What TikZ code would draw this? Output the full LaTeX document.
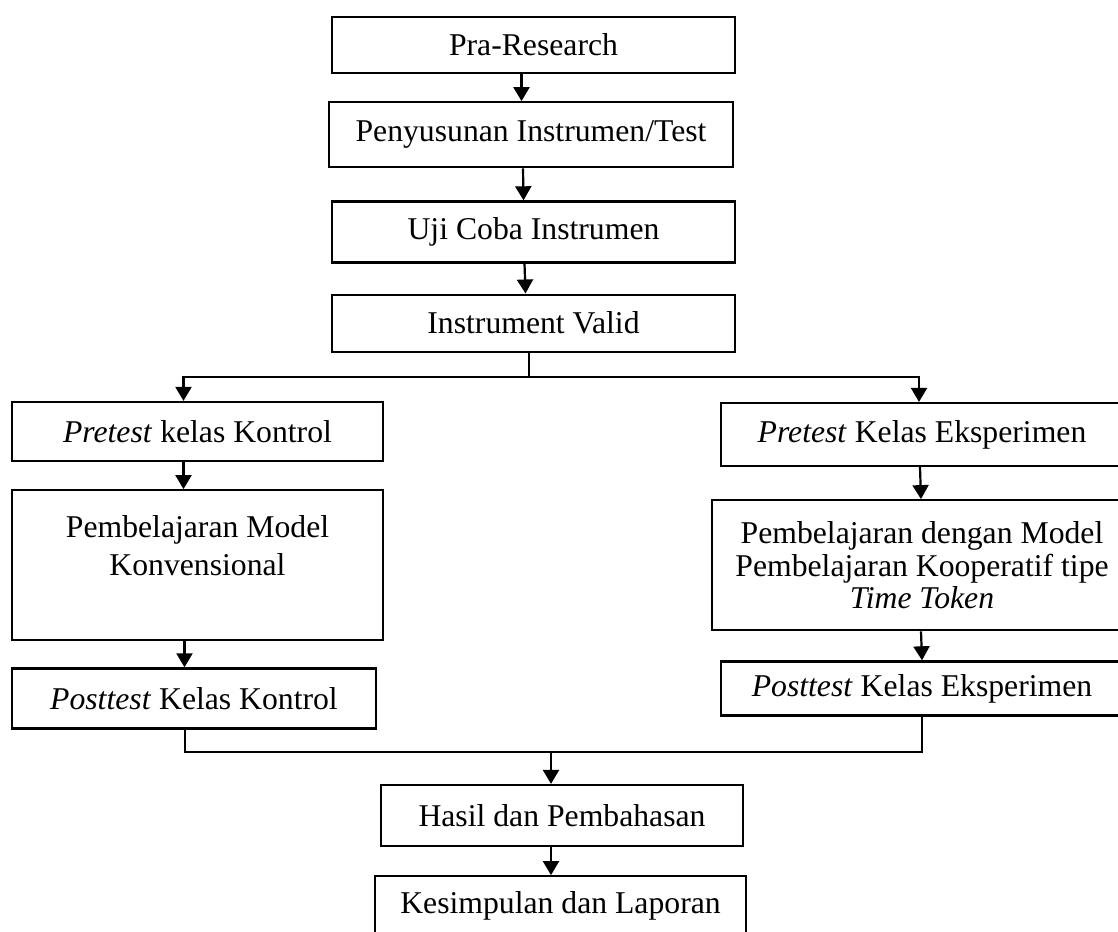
\documentclass[tikz,border=0pt]{standalone}
\usepackage{fontspec}
\setmainfont{Liberation Serif}
\usetikzlibrary{arrows.meta,positioning}

\begin{document}
\begin{tikzpicture}[x=1pt,y=-1pt,>={Triangle[length=14pt,width=16pt]},line width=2.2pt,
  font=\fontsize{31.7}{38}\selectfont,
  b/.style={draw,align=center,inner sep=0pt}]
\useasboundingbox (0,0) rectangle (1118,931);
\clip (0,0) rectangle (1118,931);
% alur persiapan
\node[b,minimum width=403pt,minimum height=56pt] (pra) at (533.5,45) {Pra-Research};
\node[b,minimum width=404pt,minimum height=65pt,below=27pt of pra,xshift=-2.5pt] (susun) {Penyusunan Instrumen/Test};
\node[b,minimum width=403pt,minimum height=61pt,below=32pt of susun,xshift=2.5pt] (uji) {Uji Coba Instrumen};
\node[b,minimum width=403pt,minimum height=57pt,below=30pt of uji] (valid) {Instrument Valid};
% kelas kontrol
\node[b,minimum width=371pt,minimum height=59pt] (prek) at (197.5,431.5) {\textit{Pretest} kelas Kontrol};
\node[b,minimum width=371pt,minimum height=150pt,below=27pt of prek] (konv)
  {\parbox[c][150pt][t]{371pt}{\centering\vspace*{25pt}Pembelajaran Model\\Konvensional}};
\node[b,minimum width=364pt,minimum height=60pt,below=26pt of konv,xshift=-3.5pt] (postk) {\textit{Posttest} Kelas Kontrol};
% kelas eksperimen
\node[b,minimum width=402pt,minimum height=63pt] (pree) at (922,434.5) {\textit{Pretest} Kelas Eksperimen};
\node[b,minimum width=420pt,minimum height=130pt,below=32pt of pree,font=\fontsize{31.7}{32.5}\selectfont] (tt)
  {Pembelajaran dengan Model\\Pembelajaran Kooperatif tipe\\\textit{Time Token}};
\node[b,minimum width=402pt,minimum height=54pt,below=29pt of tt] (poste) {\textit{Posttest} Kelas Eksperimen};
% hasil
\node[b,minimum width=362pt,minimum height=61pt] (hasil) at (562,815.5) {Hasil dan Pembahasan};
\node[b,minimum width=371pt,minimum height=60pt,below=28pt of hasil,xshift=-1.5pt] (kes) {Kesimpulan dan Laporan};
\coordinate (gabung) at (551,752);

\draw[->] ([xshift=-12pt]pra.south)--([xshift=-9.5pt]susun.north);
\draw[->] ([xshift=-8pt]susun.south)--([xshift=-10pt]uji.north);
\draw[->] ([xshift=-9pt]uji.south)--([xshift=-8pt]valid.north);
\draw ([xshift=-4.5pt]valid.south) -- ++(0,24) coordinate (cabang);
\draw[->] (cabang) -| ([xshift=-14pt]prek.north);
\draw[->] (cabang) -| ([xshift=-3pt]pree.north);
\draw[->] ([xshift=-14pt]prek.south)--([xshift=-14pt]konv.north);
\draw[->] ([xshift=-13pt]konv.south)--([xshift=-9.5pt]postk.north);
\draw[->] ([xshift=-2pt]pree.south)--([xshift=-1pt]tt.north);
\draw[->] ([xshift=-1pt]tt.south)--(poste.north);
\draw ([xshift=-9pt]postk.south) |- (gabung) -| (poste.south);
\draw[->] (gabung) -- (gabung |- hasil.north);
\draw[->] (gabung |- hasil.south) -- (gabung |- kes.north);
\end{tikzpicture}
\end{document}
